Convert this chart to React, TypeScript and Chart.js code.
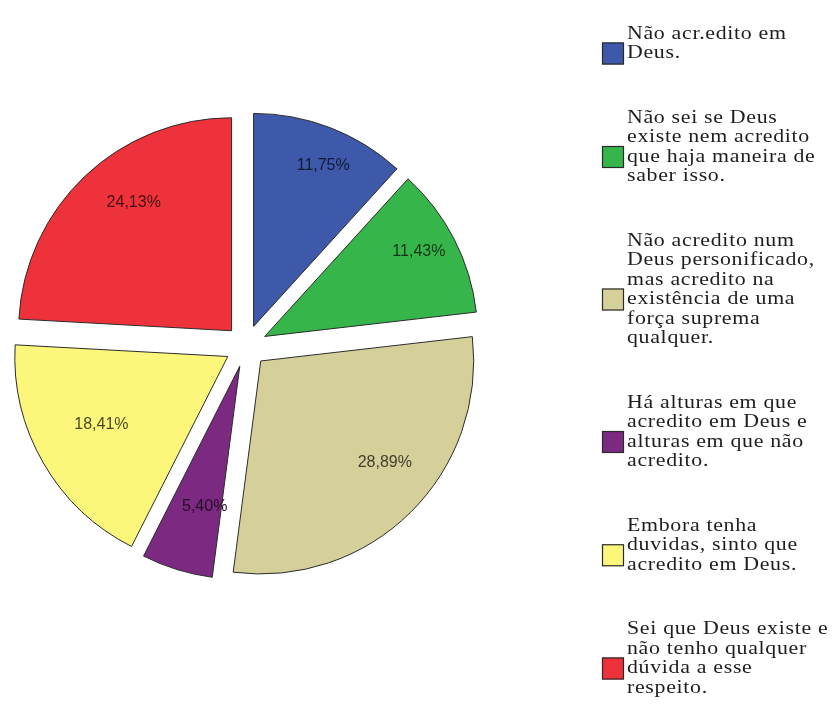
import React, { useEffect, useRef } from "react";
import { Chart, registerables } from "chart.js";

Chart.register(...registerables);

// ---- data ----
const categories: string[][] = [
  ["Não acr.edito em", "Deus."],
  ["Não sei se Deus", "existe nem acredito", "que haja maneira de", "saber isso."],
  ["Não acredito num", "Deus personificado,", "mas acredito na", "existência de uma", "força suprema", "qualquer."],
  ["Há alturas em que", "acredito em Deus e", "alturas em que não", "acredito."],
  ["Embora tenha", "duvidas, sinto que", "acredito em Deus."],
  ["Sei que Deus existe e", "não tenho qualquer", "dúvida a esse", "respeito."],
];
const percentages: number[] = [11.75, 11.43, 28.89, 5.4, 18.41, 24.13];
const colors: string[] = ["#3e58aa", "#36b54a", "#d5d09a", "#7b2981", "#fcf77a", "#ee323b"];

// ---- style constants ----
const EXPLODE = 21;
const RADIUS = 213;
const LABEL_FRAC = 0.75;
const LABEL_DX = 12;
const LABEL_DY = -12;
const LEGEND_BOX_X = 602;
const LEGEND_BOX = 22;
const LEGEND_TEXT_X = 627;
const LEGEND_TOP = 34;
const LINE_H = 19.5;
const ITEM_GAP = 45;

function darken(hex: string, f: number): string {
  const n = parseInt(hex.slice(1), 16);
  const r = Math.round(((n >> 16) & 255) * f);
  const g = Math.round(((n >> 8) & 255) * f);
  const b = Math.round((n & 255) * f);
  return `rgb(${r},${g},${b})`;
}

const explodePlugin = {
  id: "explodeArcs",
  beforeDatasetDraw(chart: any, args: any) {
    const ctx = chart.ctx;
    args.meta.data.forEach((arc: any) => {
      const mid = (arc.startAngle + arc.endAngle) / 2;
      ctx.save();
      ctx.translate(Math.cos(mid) * EXPLODE, Math.sin(mid) * EXPLODE);
      arc.draw(ctx);
      ctx.restore();
    });
    return false;
  },
};

const labelPlugin = {
  id: "sliceLabels",
  afterDatasetsDraw(chart: any) {
    const ctx = chart.ctx;
    const meta = chart.getDatasetMeta(0);
    const values = chart.data.datasets[0].data as number[];
    ctx.save();
    ctx.font = '16px "Liberation Sans", Arial, sans-serif';
    ctx.textAlign = "center";
    ctx.textBaseline = "middle";
    meta.data.forEach((arc: any, i: number) => {
      const mid = (arc.startAngle + arc.endAngle) / 2;
      const r = EXPLODE + arc.outerRadius * LABEL_FRAC;
      const x = arc.x + Math.cos(mid) * r + LABEL_DX;
      const y = arc.y + Math.sin(mid) * r + LABEL_DY;
      ctx.fillStyle = darken(colors[i], 0.3);
      ctx.fillText(values[i].toFixed(2).replace(".", ",") + "%", x, y);
    });
    ctx.restore();
  },
};

const legendPlugin = {
  id: "sideLegend",
  afterDraw(chart: any) {
    const ctx = chart.ctx;
    const labels = chart.data.labels as string[][];
    const bg = chart.data.datasets[0].backgroundColor as string[];
    ctx.save();
    ctx.font = '19px "Liberation Serif", "Times New Roman", serif';
    ctx.textAlign = "left";
    ctx.textBaseline = "middle";
    (ctx as any).letterSpacing = "0.6px";
    let y = LEGEND_TOP;
    labels.forEach((lines, i) => {
      const n = lines.length;
      const center = y + ((n - 1) * LINE_H) / 2 + LINE_H * 0.5;
      ctx.fillStyle = bg[i];
      ctx.fillRect(LEGEND_BOX_X, center - LEGEND_BOX / 2, LEGEND_BOX, LEGEND_BOX);
      ctx.strokeStyle = "#2a2a2a";
      ctx.lineWidth = 1.2;
      ctx.strokeRect(LEGEND_BOX_X + 0.5, center - LEGEND_BOX / 2 + 0.5, LEGEND_BOX - 1, LEGEND_BOX - 1);
      ctx.fillStyle = "#1e1e1e";
      lines.forEach((line, k) => {
        ctx.save();
        ctx.translate(LEGEND_TEXT_X, y + k * LINE_H);
        ctx.scale(1.15, 1);
        ctx.fillText(line, 0, 0);
        ctx.restore();
      });
      y += n * LINE_H + ITEM_GAP;
    });
    ctx.restore();
  },
};

export default function App() {
  const ref = useRef<HTMLCanvasElement | null>(null);
  useEffect(() => {
    if (!ref.current) return;
    const chart = new Chart(ref.current, {
      type: "pie",
      data: {
        labels: categories,
        datasets: [
          {
            data: percentages,
            backgroundColor: colors,
            borderColor: "#2b2b2b",
            borderWidth: 1,
            offset: 0,
            hoverOffset: 0,
          },
        ],
      },
      options: {
        animation: false,
        responsive: false,
        devicePixelRatio: 1,
        radius: RADIUS,
        layout: { padding: { left: 0, top: 0, right: 340, bottom: 30 } },
        plugins: {
          legend: { display: false },
          tooltip: { enabled: false },
        },
        events: [],
      } as any,
      plugins: [explodePlugin, labelPlugin, legendPlugin],
    });
    return () => chart.destroy();
  }, []);
  return (
    <div style={{ position: "fixed", left: 0, top: 0, width: 832, height: 722, background: "#fff" }}>
      <canvas ref={ref} width={832} height={722} style={{ display: "block" }} />
    </div>
  );
}
